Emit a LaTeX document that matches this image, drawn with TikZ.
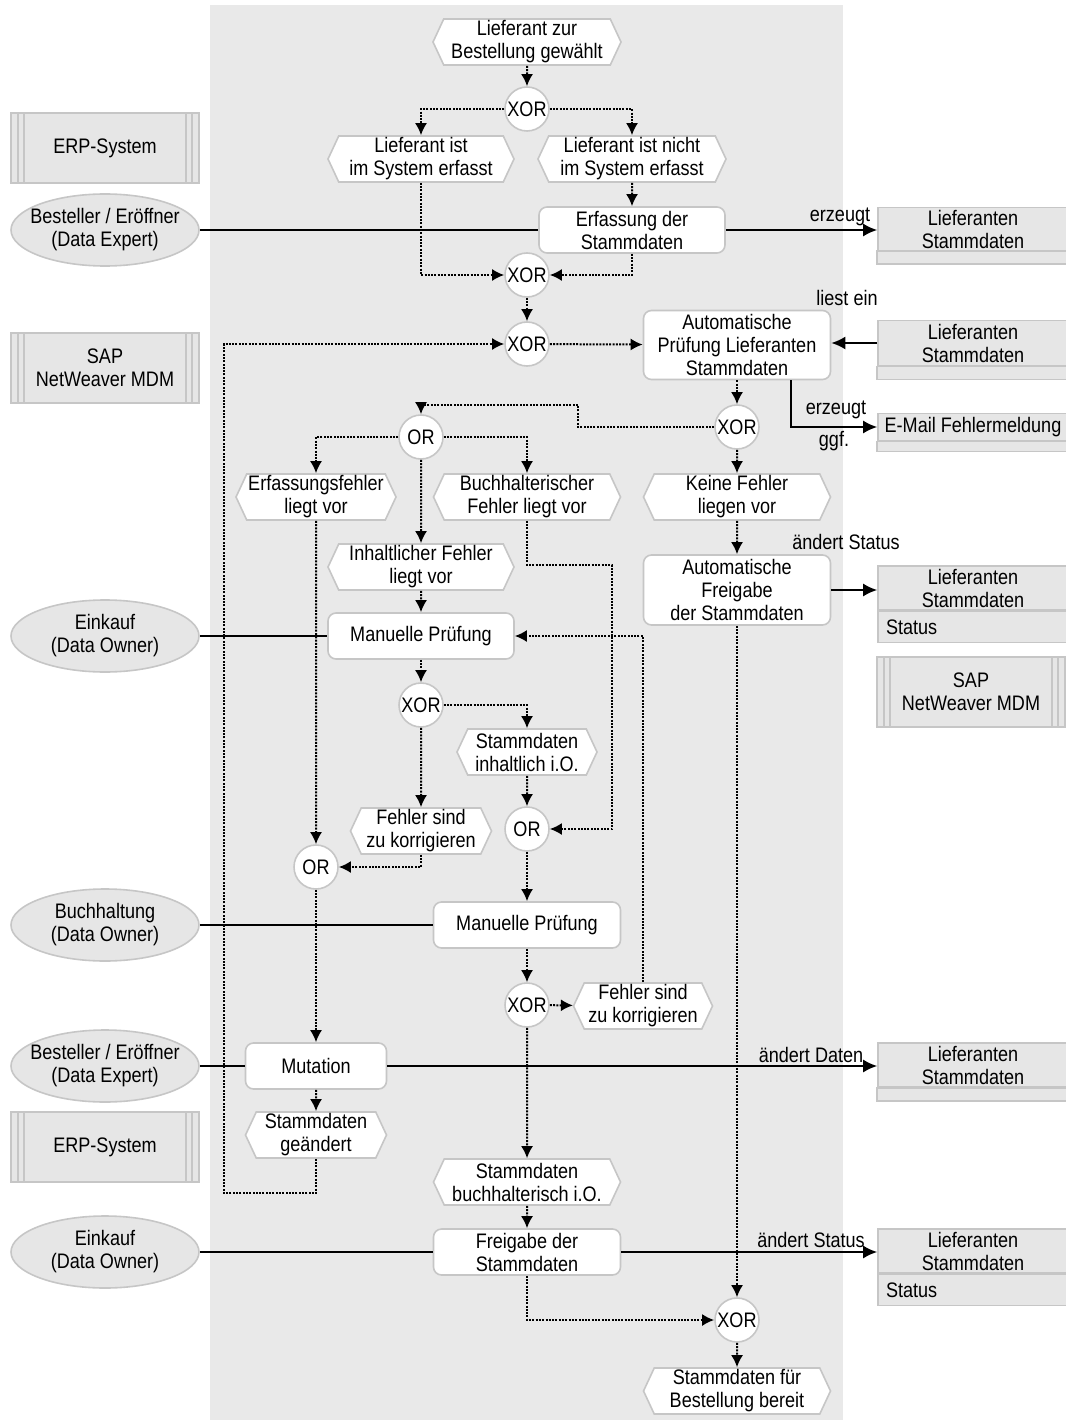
\documentclass[tikz,border=0pt]{standalone}
\usepackage{fontspec}
\setmainfont{Liberation Sans}[FakeStretch=0.86]
\usetikzlibrary{shapes.geometric,shapes.symbols,arrows.meta}
\definecolor{bgg}{RGB}{233,233,233}
\definecolor{boxg}{RGB}{230,230,230}
\definecolor{lineg}{RGB}{198,198,198}
\tikzset{
  evt/.style={signal, signal to=west and east, signal pointer angle=130, draw=lineg, line width=1.6pt, fill=white, minimum height=46, align=center, inner sep=1},
  fct/.style={rectangle, rounded corners=8, draw=lineg, line width=1.6pt, fill=white, minimum height=46, align=center, inner sep=1},
  con/.style={circle, draw=lineg, line width=1.6pt, fill=white, minimum size=44, inner sep=0},
  org/.style={ellipse, draw=lineg, line width=1.6pt, fill=boxg, minimum width=188, minimum height=72, align=center, inner xsep=-24pt, inner ysep=0},
  sysbox/.style={rectangle, draw=lineg, line width=1.6pt, fill=boxg, minimum width=188, minimum height=70, align=center,
    path picture={
      \draw[lineg, line width=1.6pt]
        ([xshift=7pt]path picture bounding box.north west) -- ([xshift=7pt]path picture bounding box.south west)
        ([xshift=13pt]path picture bounding box.north west) -- ([xshift=13pt]path picture bounding box.south west)
        ([xshift=-7pt]path picture bounding box.north east) -- ([xshift=-7pt]path picture bounding box.south east)
        ([xshift=-13pt]path picture bounding box.north east) -- ([xshift=-13pt]path picture bounding box.south east);}},
  datbox/.style={rectangle, draw=lineg, line width=1.6pt, fill=boxg, minimum width=190, align=center, inner sep=1},
  flow/.style={line width=2pt, dash pattern=on 2pt off 1.3pt, -{Latex[length=12pt,width=12pt]}},
  assoc/.style={line width=2pt},
  dat/.style={line width=2pt, -{Latex[length=14pt,width=13pt]}},
  lbl/.style={inner sep=0}
}

\begin{document}
\begin{tikzpicture}[x=1pt,y=-1pt, every node/.style={font=\fontsize{21}{23}\selectfont}]
  \useasboundingbox (0,0) rectangle (1065,1420);
  \fill[bgg] (210,5) rectangle (843,1420);

  \node[sysbox] (erp1) at (105,148) {ERP-System};
  \node[org] (bes1) at (105,230) {Besteller / Eröffner\\(Data Expert)};
  \node[sysbox] (sap1) at (105,368) {SAP\\NetWeaver MDM};
  \node[org] (ein1) at (105,636) {Einkauf\\(Data Owner)};
  \node[org] (buc1) at (105,925) {Buchhaltung\\(Data Owner)};
  \node[org] (bes2) at (105,1066) {Besteller / Eröffner\\(Data Expert)};
  \node[sysbox] (erp2) at (105,1147) {ERP-System};
  \node[org] (ein2) at (105,1252) {Einkauf\\(Data Owner)};

  \node[datbox, minimum height=43] (d1) at (973,229) {Lieferanten\\Stammdaten};
  \draw[datbox] (d1.south west) rectangle ++(190,13);
  \node[datbox, minimum height=45] (d2) at (973,343) {Lieferanten\\Stammdaten};
  \draw[datbox] (d2.south west) rectangle ++(190,13);
  \node[datbox, minimum height=27] (em) at (973,427) {E-Mail Fehlermeldung};
  \draw[datbox] (em.south west) rectangle ++(190,10);
  \node[datbox, minimum height=44] (d4) at (973,588) {Lieferanten\\Stammdaten};
  \node[datbox, minimum height=30, text width=174, align=left, inner sep=8, anchor=north] (s4) at (d4.south) {Status};
  \node[sysbox] (sap2) at (971,692) {SAP\\NetWeaver MDM};
  \node[datbox, minimum height=44] (d6) at (973,1065) {Lieferanten\\Stammdaten};
  \draw[datbox] (d6.south west) rectangle ++(190,13);
  \node[datbox, minimum height=44] (d7) at (973,1251) {Lieferanten\\Stammdaten};
  \node[datbox, minimum height=31, text width=174, align=left, inner sep=8, anchor=north] (s7) at (d7.south) {Status};

  \node[evt, minimum width=188] (e1) at (527,42) {Lieferant zur\\Bestellung gewählt};
  \node[con] (x1) at (527,109) {XOR};
  \node[evt, minimum width=186] (e2) at (421,159) {Lieferant ist\\im System erfasst};
  \node[evt, minimum width=188] (e3) at (632,159) {Lieferant ist nicht\\im System erfasst};
  \node[fct, minimum width=186] (f1) at (632,230) {Erfassung der\\Stammdaten};
  \node[con] (x2) at (527,275) {XOR};
  \node[con] (x3) at (527,344) {XOR};
  \node[fct, minimum width=187, minimum height=69] (f2) at (737,345) {Automatische\\Prüfung Lieferanten\\Stammdaten};
  \node[con] (x4) at (737,427) {XOR};
  \node[con] (o1) at (421,437) {OR};
  \node[evt, minimum width=160] (e4) at (316,497) {Erfassungsfehler\\liegt vor};
  \node[evt, minimum width=187] (e5) at (527,497) {Buchhalterischer\\Fehler liegt vor};
  \node[evt, minimum width=187] (e6) at (737,497) {Keine Fehler\\liegen vor};
  \node[evt, minimum width=186] (e7) at (421,567) {Inhaltlicher Fehler\\liegt vor};
  \node[fct, minimum width=187, minimum height=70] (f3) at (737,590) {Automatische\\Freigabe\\der Stammdaten};
  \node[fct, minimum width=186] (f4) at (421,636) {Manuelle Prüfung};
  \node[con] (x5) at (421,705) {XOR};
  \node[evt, minimum width=140] (e8) at (527,752) {Stammdaten\\inhaltlich i.O.};
  \node[evt, minimum width=141] (e9) at (421,831) {Fehler sind\\zu korrigieren};
  \node[con] (o2) at (527,829) {OR};
  \node[con] (o3) at (316,867) {OR};
  \node[fct, minimum width=187] (f5) at (527,925) {Manuelle Prüfung};
  \node[con] (x6) at (527,1005) {XOR};
  \node[evt, minimum width=139] (e10) at (643,1006) {Fehler sind\\zu korrigieren};
  \node[fct, minimum width=141] (f6) at (316,1066) {Mutation};
  \node[evt, minimum width=141] (e11) at (316,1135) {Stammdaten\\geändert};
  \node[evt, minimum width=187] (e12) at (527,1182) {Stammdaten\\buchhalterisch i.O.};
  \node[fct, minimum width=187] (f7) at (527,1252) {Freigabe der\\Stammdaten};
  \node[con] (x7) at (737,1320) {XOR};
  \node[evt, minimum width=187] (e13) at (737,1391) {Stammdaten für\\Bestellung bereit};

  \node[lbl] (l1) at (840,217) {erzeugt};
  \node[lbl] (l2) at (847,298) {liest ein};
  \node[lbl] (l3) at (836,410) {erzeugt};
  \node[lbl] (l4) at (834,441) {ggf.};
  \node[lbl] (l5) at (846,542) {ändert Status};
  \node[lbl] (l6) at (811,1055) {ändert Daten};
  \node[lbl] (l7) at (811,1240) {ändert Status};

  \draw[flow] (e1) -- (x1);
  \draw[flow] (x1.west) -| (e2.north);
  \draw[flow] (x1.east) -| (e3.north);
  \draw[flow] (e3) -- (f1);
  \draw[flow] (e2.south) |- (x2.west);
  \draw[flow] (f1.south) |- (x2.east);
  \draw[flow] (x2) -- (x3);
  \draw[flow] (x3) -- (f2);
  \draw[flow] (f2) -- (x4);
  \draw[flow] (x4.west) -| (578,405) -| (o1.north);
  \draw[flow] (x4) -- (e6);
  \draw[flow] (o1.west) -| (e4.north);
  \draw[flow] (o1.east) -| (e5.north);
  \draw[flow] (o1) -- (e7);
  \draw[flow] (e6) -- (f3);
  \draw[flow] (e7) -- (f4);
  \draw[flow] (e5.south) |- (612,565) |- (o2.east);
  \draw[flow] (e4) -- (o3);
  \draw[flow] (f4) -- (x5);
  \draw[flow] (x5.east) -| (e8.north);
  \draw[flow] (x5) -- (e9);
  \draw[flow] (e8) -- (o2);
  \draw[flow] (e9.south) |- (o3.east);
  \draw[flow] (o2) -- (f5);
  \draw[flow] (f5) -- (x6);
  \draw[flow] (x6) -- (e10);
  \draw[flow] (e10.north) |- (f4.east);
  \draw[flow] (o3) -- (f6);
  \draw[flow] (f6) -- (e11);
  \draw[flow] (e11.south) |- (224,1193) |- (x3.west);
  \draw[flow] (x6) -- (e12);
  \draw[flow] (e12) -- (f7);
  \draw[flow] (f7.south) |- (x7.west);
  \draw[flow] (f3) -- (x7);
  \draw[flow] (x7) -- (e13);

  \draw[assoc] (bes1) -- (f1);
  \draw[assoc] (ein1) -- (f4);
  \draw[assoc] (buc1) -- (f5);
  \draw[assoc] (bes2) -- (f6);
  \draw[assoc] (ein2) -- (f7);
  \draw[dat] (f1.east) -- (f1.east -| d1.west);
  \draw[dat] (d2.west) -- (d2.west -| f2.east);
  \draw[dat] ([xshift=54pt]f2.south) |- (em.west);
  \draw[dat] (f3.east) -- (f3.east -| d4.west);
  \draw[dat] (f6.east) -- (f6.east -| d6.west);
  \draw[dat] (f7.east) -- (f7.east -| d7.west);
\end{tikzpicture}
\end{document}
